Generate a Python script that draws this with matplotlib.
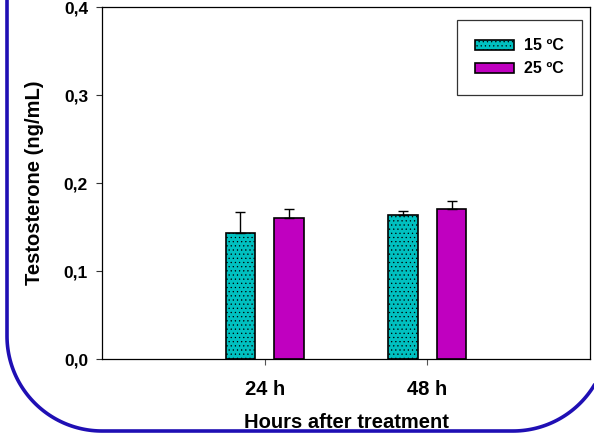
import matplotlib
matplotlib.use("Agg")
import numpy as np
import matplotlib.pyplot as plt

# data
groups = ["24 h", "48 h"]
temps = ["15 ºC", "25 ºC"]
mean15 = [0.1435, 0.1635]
err15 = [0.023, 0.005]
mean25 = [0.160, 0.170]
err25 = [0.010, 0.010]
yticks = [0.0, 0.1, 0.2, 0.3, 0.4]
ytick_labels = ["0,0", "0,1", "0,2", "0,3", "0,4"]

plt.rcParams['font.family'] = ['Liberation Sans', 'DejaVu Sans']
plt.rcParams['font.weight'] = 'bold'
plt.rcParams['hatch.linewidth'] = 0.4

fig = plt.figure(figsize=(5.94, 4.33), dpi=100)

# rounded blue frame behind everything (pixel coords)
bg = fig.add_axes([0, 0, 1, 1], zorder=-1)
bg.set_xlim(0, 594)
bg.set_ylim(433, 0)
bg.axis('off')
r = 95
left, right, bottom = 7, 608, 431
t = np.linspace(0, np.pi / 2, 60)
fx = np.concatenate([[left], left + r - r * np.cos(t), right - r + r * np.sin(t), [right]])
fy = np.concatenate([[-10], bottom - r + r * np.sin(t), bottom - r + r * np.cos(t), [-10]])
bg.plot(fx, fy, color='#1f0fb4', lw=2.6, solid_capstyle='butt')

ax = fig.add_axes([102 / 594, 1 - 359 / 433, 488 / 594, 352 / 433])
ax.set_facecolor('none')

x = [1, 2]
w = 0.18
off = 0.15
x15 = [i - off for i in x]
x25 = [i + off for i in x]

ax.bar(x15, mean15, w, color='#00c0c0', edgecolor='black', linewidth=1.2, hatch='....',
       label=temps[0], yerr=[[0, 0], err15], error_kw=dict(ecolor='black', elinewidth=1, capsize=3.6, capthick=1))
ax.bar(x25, mean25, w, color='#c000c0', edgecolor='black', linewidth=1.2,
       label=temps[1], yerr=[[0, 0], err25], error_kw=dict(ecolor='black', elinewidth=1, capsize=3.6, capthick=1))

ax.set_xlim(0, 3)
ax.set_ylim(0, 0.4)
ax.set_xticks(x)
ax.set_xticklabels(groups, fontsize=14.5, fontweight='bold')
ax.set_yticks(yticks)
ax.set_yticklabels(ytick_labels, fontsize=12.5, fontweight='bold')
ax.tick_params(axis='y', direction='out', length=4, width=0.8, pad=6, color='#333333')
ax.tick_params(axis='x', direction='out', length=4, width=0.8, pad=11, color='#555555')
for s in ax.spines.values():
    s.set_linewidth(0.9)

ax.set_xlabel("Hours after treatment", fontsize=14.5, fontweight='bold', labelpad=10)
ax.set_ylabel("Testosterone (ng/mL)", fontsize=14.5, fontweight='bold', labelpad=14)

leg = ax.legend(loc='upper right', bbox_to_anchor=(0.9836, 0.963),
                prop={'weight': 'bold', 'size': 11.5}, fancybox=False, frameon=True,
                edgecolor='black', borderpad=1.15, handlelength=2.45, handleheight=0.62,
                handletextpad=0.6, labelspacing=0.5, borderaxespad=0)
leg.get_frame().set_linewidth(0.9)

fig.savefig("out.png", dpi=100)
